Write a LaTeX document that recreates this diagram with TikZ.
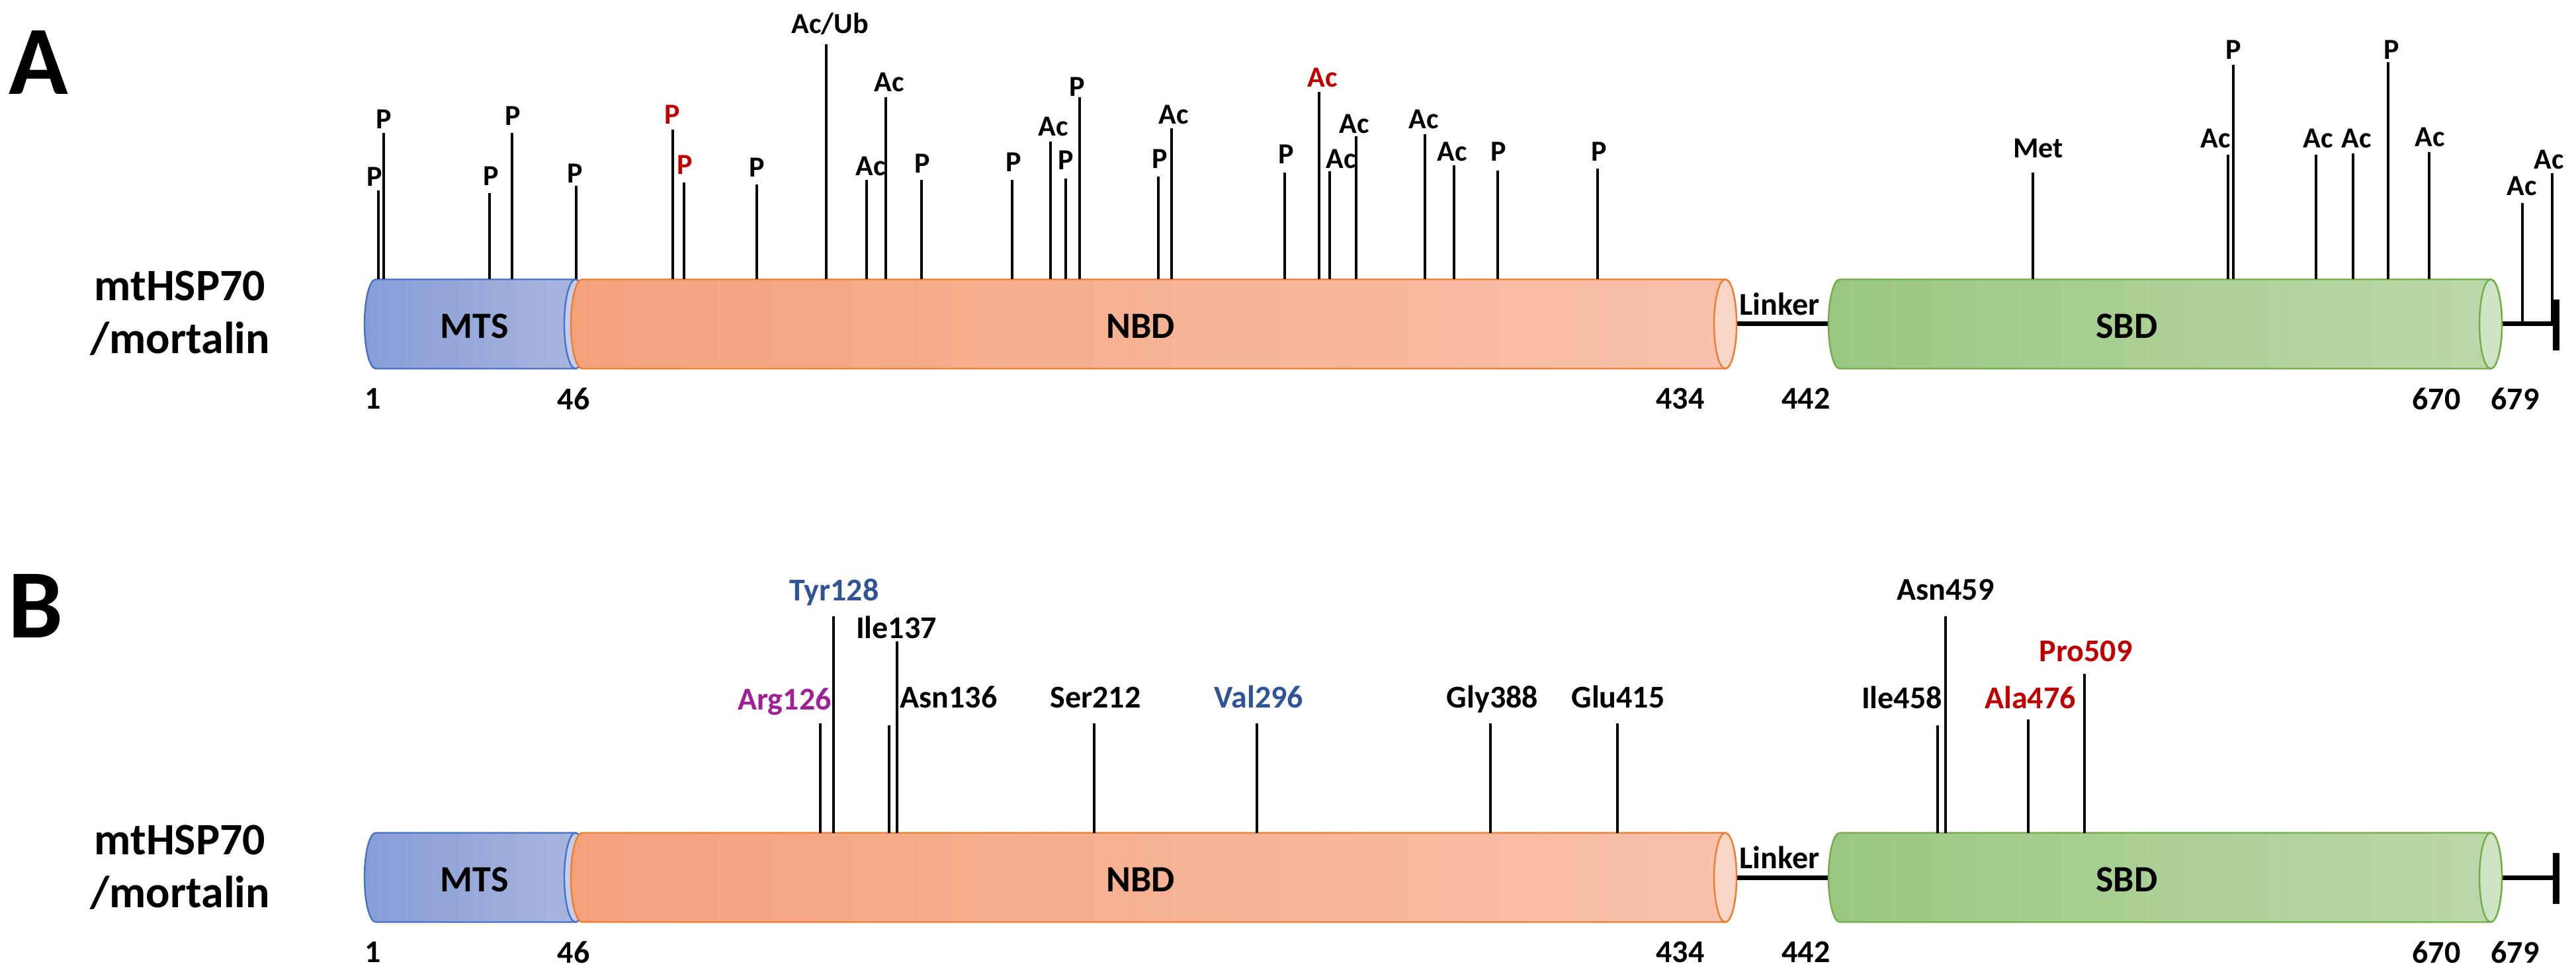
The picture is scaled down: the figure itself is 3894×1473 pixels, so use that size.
\documentclass[tikz,border=0pt]{standalone}
\usepackage{fontspec}
\setmainfont{Carlito}
\usetikzlibrary{positioning}

\definecolor{mtsleft}{RGB}{134,157,214}
\definecolor{mtsright}{RGB}{170,182,222}
\definecolor{mtsline}{RGB}{68,114,196}
\definecolor{mtscap}{RGB}{196,206,236}
\definecolor{nbdleft}{RGB}{244,162,124}
\definecolor{nbdright}{RGB}{248,194,172}
\definecolor{nbdline}{RGB}{237,125,49}
\definecolor{nbdcap}{RGB}{250,214,198}
\definecolor{sbdleft}{RGB}{154,200,128}
\definecolor{sbdright}{RGB}{187,216,170}
\definecolor{sbdline}{RGB}{112,173,71}
\definecolor{sbdcap}{RGB}{207,228,196}
\definecolor{ptmred}{RGB}{192,0,0}
\definecolor{resblue}{RGB}{47,85,151}
\definecolor{argpurple}{RGB}{160,32,150}

% body style, cap style, left centre x, right centre x, middle y
\newcommand{\cylinder}[5]{%
  \shadedraw[#1] (#3,#5-67.5) -- (#4,#5-67.5)
    arc[start angle=90,end angle=-90,x radius=4.25pt,y radius=16.875pt]
    -- (#3,#5+67.5)
    arc[start angle=270,end angle=90,x radius=4.25pt,y radius=16.875pt] -- cycle;
  \filldraw[#2] (#4,#5) ellipse[x radius=4.25pt,y radius=16.875pt];}

\begin{document}
\begin{tikzpicture}[x=0.25pt,y=-0.25pt,
  mtsbody/.style={left color=mtsleft,right color=mtsright,draw=mtsline,line width=0.6pt},
  mtsend/.style={fill=mtscap,draw=mtsline,line width=0.6pt},
  nbdbody/.style={left color=nbdleft,right color=nbdright,draw=nbdline,line width=0.6pt},
  nbdend/.style={fill=nbdcap,draw=nbdline,line width=0.6pt},
  sbdbody/.style={left color=sbdleft,right color=sbdright,draw=sbdline,line width=0.6pt},
  sbdend/.style={fill=sbdcap,draw=sbdline,line width=0.6pt},
  site/.style={line width=0.8pt},
  ptm/.style={font=\bfseries\fontsize{11}{13}\selectfont,inner sep=0pt,anchor=base},
  res/.style={font=\bfseries\fontsize{12}{14}\selectfont,inner sep=0pt,anchor=base},
  num/.style={font=\bfseries\fontsize{12}{14}\selectfont,inner sep=0pt},
  dom/.style={font=\bfseries\fontsize{14}{16}\selectfont,inner sep=0pt},
  prot/.style={font=\bfseries\fontsize{17}{20}\selectfont,inner sep=0pt,anchor=base},
  panel/.style={font=\bfseries\fontsize{37}{40}\selectfont,inner sep=0pt,anchor=base}
  ]
\useasboundingbox (0,0) rectangle (3894,1473);

\node[panel] (pa) at (58,143) {A};
\node[panel] (pb) at (54,964) {B};

% domain architecture, once per panel
\foreach \yc/\p in {490/a,1327/b}{
  \draw[line width=1.75pt] (2620,\yc) -- (2770,\yc);
  \draw[line width=1.75pt] (3775,\yc) -- (3864,\yc);
  \draw[line width=2.5pt] (3864,\yc-37) -- (3864,\yc+40);
  \cylinder{mtsbody}{mtsend}{568}{870}{\yc}
  \cylinder{nbdbody}{nbdend}{880}{2608}{\yc}
  \cylinder{sbdbody}{sbdend}{2781}{3765}{\yc}
  \node[dom] (\p-mts) at (717,\yc+3) {MTS};
  \node[dom] (\p-nbd) at (1724,\yc+3) {NBD};
  \node[dom] (\p-sbd) at (3215,\yc+3) {SBD};
  \node[num] (\p-linker) at (2690,\yc-30) {Linker};
  \node[prot] (\p-name) at (272,\yc-35) {mtHSP70};
  \node[prot] (\p-name2) at (272,\yc+45) {/mortalin};
  \foreach \n/\nx in {1/564,46/867,434/2540,442/2730,670/3683,679/3802}
    \node[num] (\p-n\n) at (\nx,\yc+113) {\n};
}

% panel A: modification sites
\foreach \x/\t/\b/\lab/\lx/\ly/\c [count=\i] in {
  572/288/422.5/P/566/268/black, 580/201/422.5/P/580/181/black,
  740/292/422.5/P/742/267/black, 774/201/422.5/P/775/176/black,
  871/281/422.5/P/869/263/black, 1017/196/422.5/P/1016/174/ptmred,
  1034/276/422.5/P/1035/250/ptmred, 1144/279/422.5/P/1144/254/black,
  1310/272/422.5/Ac/1316/252/black, 1339/147/422.5/Ac/1344/125/black,
  1393/272/422.5/P/1394/248/black, 1530/272/422.5/P/1532/246/black,
  1588/214/422.5/Ac/1592/192/black, 1611/270/422.5/P/1611/243/black,
  1632/147/422.5/P/1628/132/black, 1751/267/422.5/P/1753/241/black,
  1771/194/422.5/Ac/1774/174/black, 1942/261/422.5/P/1944/234/black,
  1994/139/422.5/Ac/1999/118/ptmred, 2010/259/422.5/Ac/2027/241/black,
  2050/206/422.5/Ac/2047/188/black, 2154/203/422.5/Ac/2152/181/black,
  2198/250/422.5/Ac/2195/230/black, 2264/258/422.5/P/2265/230/black,
  2415/255/422.5/P/2417/230/black, 3073/261/422.5/Met/3081/225/black,
  3368/234/422.5/Ac/3349/210/black, 3376/98/422.5/P/3376/76/black,
  3501/234/422.5/Ac/3504/210/black, 3557/232/422.5/Ac/3562/210/black,
  3610/94/422.5/P/3615/76/black, 3672/230/422.5/Ac/3673/208/black,
  3813/307/490/Ac/3812/282/black, 3858/262/490/Ac/3853/242/black}{
  \draw[site] (\x,\t) -- (\x,\b);
  \node[ptm,text=\c] (a-site\i) at (\lx,\ly+14) {\lab};
}
\draw[site] (1249,67) -- (1249,422.5);
\node[ptm] (a-acub) at (1255,51) {Ac/Ub};

% panel B: residues
\foreach \x/\t/\lab/\lx/\ly/\c [count=\i] in {
  1240/1094/Arg126/1186/1058/argpurple, 1260/932/Tyr128/1261/893/resblue,
  1344/1097/Asn136/1434/1055/black, 1356/970/Ile137/1355/950/black,
  1654/1094/Ser212/1656/1055/black, 1900/1094/Val296/1903/1055/resblue,
  2253/1094/Gly388/2256/1055/black, 2445/1094/Glu415/2446/1055/black,
  2929/1097/Ile458/2875/1056/black, 2941/932/Asn459/2941/892/black,
  3066/1088/Ala476/3069/1056/ptmred, 3151/1019/Pro509/3153/985/ptmred}{
  \draw[site] (\x,\t) -- (\x,1259.5);
  \node[res,text=\c] (b-site\i) at (\lx,\ly+15.5) {\lab};
}
\end{tikzpicture}
\end{document}
